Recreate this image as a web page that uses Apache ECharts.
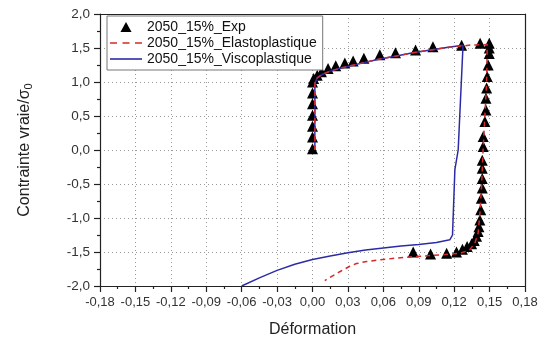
<!DOCTYPE html>
<html>
<head>
<meta charset="utf-8">
<script src="https://cdn.jsdelivr.net/npm/echarts@6/dist/echarts.min.js"></script>
<style>html,body{margin:0;padding:0;background:#fff}#c{width:547px;height:341px}</style>
</head>
<body>
<div id="c"></div>
<script>
// ---- Data ----
var seriesNames = ['2050_15%_Exp', '2050_15%_Elastoplastique', '2050_15%_Viscoplastique'];

var expX = [0.000, 0.000, 0.000, 0.000, 0.000, 0.000, 0.000,
  0.001, 0.004, 0.0076, 0.0132, 0.0197, 0.0274, 0.0344, 0.0435, 0.057, 0.0703, 0.0873, 0.102, 0.1263, 0.142, 0.1497,
  0.1497, 0.1497, 0.1488, 0.148, 0.1475, 0.1469, 0.1469, 0.146, 0.1446, 0.1446,
  0.1438, 0.1438, 0.1438, 0.1438, 0.143, 0.1425, 0.1418, 0.141, 0.1403, 0.139, 0.137, 0.1348, 0.131, 0.127, 0.122, 0.1136, 0.100, 0.0853];
var expY = [0.02, 0.19, 0.35, 0.51, 0.68, 0.84, 1.00,
  1.05, 1.10, 1.15, 1.20, 1.24, 1.28, 1.31, 1.35, 1.40, 1.43, 1.47, 1.52, 1.54, 1.57, 1.57,
  1.50, 1.42, 1.25, 1.08, 0.91, 0.76, 0.59, 0.42, 0.20, 0.05,
  -0.15, -0.27, -0.42, -0.56, -0.71, -0.88, -1.03, -1.13, -1.20, -1.27, -1.33, -1.38, -1.42, -1.46, -1.50, -1.52, -1.53, -1.50];

var elastoX = [0.002, 0.002, 0.004, 0.008, 0.015, 0.025, 0.040, 0.055, 0.070, 0.085, 0.100, 0.115, 0.127, 0.135, 0.148,
  0.1475, 0.146, 0.1445, 0.1432, 0.1418, 0.1403, 0.1375, 0.133, 0.125, 0.1107, 0.0938, 0.0768, 0.060, 0.0458, 0.0373, 0.0316, 0.0231, 0.0104];
var elastoY = [0.00, 0.98, 1.06, 1.11, 1.16, 1.21, 1.27, 1.33, 1.38, 1.43, 1.47, 1.51, 1.53, 1.545, 1.55,
  1.00, 0.50, 0.00, -0.54, -0.93, -1.22, -1.37, -1.47, -1.52, -1.54, -1.56, -1.58, -1.61, -1.64, -1.67, -1.71, -1.79, -1.92];

var viscoX = [0.002, 0.002, 0.004, 0.008, 0.015, 0.025, 0.040, 0.055, 0.070, 0.085, 0.100, 0.115, 0.1275,
  0.1234, 0.1206, 0.1186, 0.1163, 0.105, 0.090, 0.075, 0.060, 0.045, 0.030, 0.015, 0.000, -0.015, -0.030, -0.045, -0.060];
var viscoY = [0.00, 0.98, 1.06, 1.11, 1.16, 1.21, 1.27, 1.33, 1.38, 1.43, 1.47, 1.51, 1.54,
  0.00, -0.29, -1.25, -1.32, -1.36, -1.39, -1.41, -1.44, -1.47, -1.51, -1.56, -1.61, -1.68, -1.77, -1.88, -2.00];

var xRange = [-0.18, 0.18], xStep = 0.03;
var yRange = [-2.0, 2.0], yStep = 0.5;

function pairs(xs, ys) { return xs.map(function (x, i) { return [x, ys[i]]; }); }
function fmt(d) { return function (v) { return v.toFixed(d).replace('.', ','); }; }

var chart = echarts.init(document.getElementById('c'));
var font = 'Liberation Sans, Arial, sans-serif';
var axisLineStyle = { color: '#222', width: 1.2 };
var splitStyle = { show: true, lineStyle: { color: '#999', width: 1, type: [1, 3] } };

var iconTri = 'path://M5,0 L10,9 L0,9 Z';
var iconSolid = 'path://M0,0 L32,0 L32,1.6 L0,1.6 Z';
var iconDash = 'path://M0,0 L7,0 L7,1.6 L0,1.6 Z M12.5,0 L19.5,0 L19.5,1.6 L12.5,1.6 Z M25,0 L32,0 L32,1.6 L25,1.6 Z';

chart.setOption({
  animation: false,
  backgroundColor: '#fff',
  grid: { left: 100, right: 22, top: 14, bottom: 55, outerBoundsMode: 'none', containLabel: false },
  legend: {
    data: [
      { name: seriesNames[0], icon: iconTri },
      { name: seriesNames[1], icon: iconDash },
      { name: seriesNames[2], icon: iconSolid }
    ],
    orient: 'vertical',
    left: 107, top: 16,
    padding: [3, 6, 3, 3],
    itemWidth: 32, itemHeight: 10, itemGap: 0,
    symbolKeepAspect: true,
    backgroundColor: '#fff',
    borderColor: '#777', borderWidth: 1,
    textStyle: { fontFamily: font, fontSize: 14, color: '#111', lineHeight: 16 }
  },
  xAxis: [{
    type: 'value', min: xRange[0], max: xRange[1], interval: xStep,
    name: 'Déformation', nameLocation: 'middle', nameGap: 36,
    nameTextStyle: { fontFamily: font, fontSize: 16, color: '#222' },
    axisLine: { show: true, onZero: false, lineStyle: axisLineStyle },
    axisTick: { show: true, length: 6, lineStyle: axisLineStyle },
    minorTick: { show: true, splitNumber: 2, length: 3, lineStyle: axisLineStyle },
    axisLabel: { formatter: fmt(2), fontFamily: font, fontSize: 13, color: '#333', margin: 10 },
    splitLine: splitStyle
  }, {
    type: 'value', position: 'top', min: xRange[0], max: xRange[1], interval: xStep,
    axisLine: { show: true, onZero: false, lineStyle: axisLineStyle },
    axisTick: { show: false }, axisLabel: { show: false }, splitLine: { show: false }
  }],
  yAxis: [{
    type: 'value', min: yRange[0], max: yRange[1], interval: yStep,
    name: 'Contrainte vraie/σ{sub|0}', nameLocation: 'middle', nameGap: 66,
    nameTextStyle: { fontFamily: font, fontSize: 16, color: '#222',
      rich: { sub: { fontFamily: font, fontSize: 11, color: '#222', verticalAlign: 'bottom', padding: [8, 0, 0, 0] } } },
    axisLine: { show: true, onZero: false, lineStyle: axisLineStyle },
    axisTick: { show: true, length: 6, lineStyle: axisLineStyle },
    minorTick: { show: true, splitNumber: 2, length: 3, lineStyle: axisLineStyle },
    axisLabel: { formatter: fmt(1), fontFamily: font, fontSize: 13.5, color: '#333', margin: 10 },
    splitLine: splitStyle
  }, {
    type: 'value', position: 'right', min: yRange[0], max: yRange[1], interval: yStep,
    axisLine: { show: true, onZero: false, lineStyle: axisLineStyle },
    axisTick: { show: false }, axisLabel: { show: false }, splitLine: { show: false }
  }],
  series: [{
    name: seriesNames[0], type: 'scatter', symbol: 'triangle', symbolSize: 11,
    itemStyle: { color: '#000', opacity: 1 },
    data: pairs(expX, expY)
  }, {
    name: seriesNames[2], type: 'line', symbol: 'none', smooth: false,
    lineStyle: { color: '#2b2ba8', width: 1.5, type: 'solid' },
    itemStyle: { color: '#2b2ba8' },
    data: pairs(viscoX, viscoY)
  }, {
    name: seriesNames[1], type: 'line', symbol: 'none', smooth: false,
    lineStyle: { color: '#d42a2a', width: 1.5, type: [5, 4] },
    itemStyle: { color: '#d42a2a' },
    data: pairs(elastoX, elastoY)
  }]
});
</script>
</body>
</html>
